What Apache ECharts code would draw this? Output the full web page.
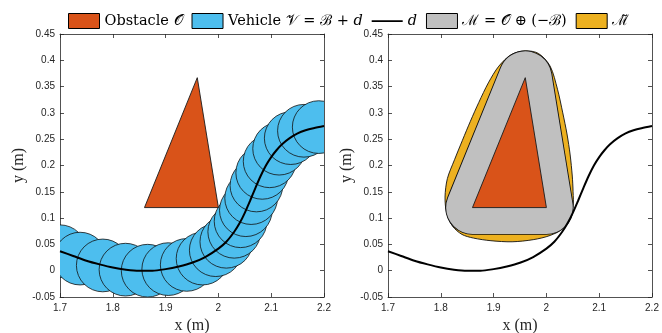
<!DOCTYPE html>
<html><head><meta charset="utf-8">
<script src="https://cdn.jsdelivr.net/npm/echarts@6/dist/echarts.min.js"></script>
<style>html,body{margin:0;padding:0;background:#fff}#c{width:662px;height:333px}</style>
</head><body><div id="c"></div>
<script>
// ---- data ----
const xTicks = [1.7, 1.8, 1.9, 2.0, 2.1, 2.2];
const yTicks = [-0.05, 0, 0.05, 0.1, 0.15, 0.2, 0.25, 0.3, 0.35, 0.4, 0.45];
const obstacleX = [1.86, 2.0, 1.96];
const obstacleY = [0.12, 0.12, 0.367];
const pathX = [1.70,1.725,1.75,1.775,1.80,1.825,1.85,1.875,1.90,1.925,1.95,1.975,2.00,2.015,2.03,2.04,2.05,2.06,2.07,2.08,2.09,2.10,2.11,2.12,2.135,2.15,2.165,2.18,2.20];
const pathY = [0.037,0.028,0.019,0.012,0.006,0.002,0.000,0.000,0.003,0.008,0.015,0.026,0.042,0.055,0.074,0.090,0.110,0.133,0.157,0.180,0.200,0.216,0.229,0.240,0.252,0.261,0.267,0.271,0.275];
const vehicleX = [1.700,1.738,1.781,1.824,1.866,1.905,1.940,1.970,1.995,2.015,2.030,2.042,2.052,2.062,2.072,2.083,2.097,2.115,2.137,2.162,2.190];
const vehicleY = [0.037,0.023,0.010,0.002,0.000,0.003,0.011,0.023,0.039,0.055,0.074,0.094,0.115,0.138,0.162,0.186,0.208,0.232,0.252,0.266,0.273];
const vehicleRadius = 0.05;
const approxX = [1.960,1.985,2.007,2.021,2.031,2.039,2.045,2.049,2.0505,2.050,2.032,2.007,1.975,1.935,1.895,1.862,1.840,1.822,1.811,1.808,1.8124,1.826,1.841,1.856,1.872,1.890,1.910,1.934];
const approxY = [0.418,0.413,0.389,0.345,0.300,0.260,0.220,0.180,0.150,0.120,0.081,0.067,0.059,0.055,0.057,0.062,0.069,0.085,0.110,0.140,0.175,0.211,0.248,0.284,0.320,0.357,0.389,0.411];

const names = ['Obstacle 𝒪', 'Vehicle 𝒱 = ℬ + d', 'd', 'ℳ = 𝒪 ⊕ (−ℬ)', 'ℳ\u0303'];
const C = {obs:'#D95319', veh:'#4DBEEE', gray:'#C0C0C0', yel:'#EDB120'};

const chart = echarts.init(document.getElementById('c'), null, {renderer:'canvas'});

function pts(xs, ys, api){ return xs.map((x,i)=>api.coord([x, ys[i]])); }
function clipRect(params){ const c = params.coordSys; return {type:'rect', shape:{x:c.x, y:c.y, width:c.width, height:c.height}}; }

function triangleSeries(xi, yi){
  return {type:'custom', name:names[0], xAxisIndex:xi, yAxisIndex:yi, z:5,
    itemStyle:{color:C.obs, borderColor:'#000', borderWidth:1},
    data:[[obstacleX[0], obstacleY[0]]],
    renderItem:(params, api)=>({type:'polygon', shape:{points:pts(obstacleX, obstacleY, api)},
      style:{fill:C.obs, stroke:'#1a1a1a', lineWidth:0.9}})
  };
}

const axisCommon = {
  type:'value', axisLine:{show:true, onZero:false, lineStyle:{color:'#262626', width:0.8}},
  axisTick:{show:true, inside:true, length:4, lineStyle:{color:'#262626', width:0.8}},
  splitLine:{show:false}
};
const labelStyle = {color:'#262626', fontSize:10, fontFamily:'Liberation Sans, Arial, sans-serif'};
const nameStyle = {color:'#262626', fontSize:16, fontFamily:'Liberation Serif, DejaVu Serif, serif'};

function xAx(gi, pos){
  return Object.assign({}, axisCommon, {gridIndex:gi, position:pos, min:xTicks[0], max:xTicks[xTicks.length-1], interval:0.1,
    axisLabel:{show:pos==='bottom', margin:6, ...labelStyle, formatter:v=>String(+v.toFixed(2))},
    name: pos==='bottom' ? 'x (m)' : '', nameLocation:'middle', nameGap:21, nameTextStyle:nameStyle});
}
function yAx(gi, pos){
  return Object.assign({}, axisCommon, {gridIndex:gi, position:pos, min:yTicks[0], max:yTicks[yTicks.length-1], interval:0.05,
    axisLabel:{show:pos==='left', margin:5, ...labelStyle, formatter:v=>String(+v.toFixed(2))},
    name: pos==='left' ? 'y (m)' : '', nameLocation:'middle', nameGap:33, nameRotate:90, nameTextStyle:nameStyle});
}

const lineIcon = 'path://M0,0L0.01,0L0,0.01Z M0,6.7L31,6.7L31,8.5L0,8.5Z M31,15L30.99,15L31,14.99Z';
const serif = 'DejaVu Serif, Liberation Serif, serif';

const option = {
  animation:false,
  legend:{
    top:13, left:68, padding:0, itemWidth:31, itemHeight:15, itemGap:9,
    textStyle:{fontSize:14.5, color:'#000', fontFamily:serif,
      rich:{i:{fontStyle:'italic', fontSize:14.5, fontFamily:serif}}},
    formatter: n => n.replace(/\bd\b/g, '{i|d}'),
    data:[
      {name:names[0], icon:'rect', itemStyle:{color:C.obs, borderColor:'#000', borderWidth:1}},
      {name:names[1], icon:'rect', itemStyle:{color:C.veh, borderColor:'#000', borderWidth:1}},
      {name:names[2], icon:lineIcon, itemStyle:{color:'#000', borderWidth:0}},
      {name:names[3], icon:'rect', itemStyle:{color:C.gray, borderColor:'#000', borderWidth:1}},
      {name:names[4], icon:'rect', itemStyle:{color:C.yel, borderColor:'#000', borderWidth:1}}
    ]
  },
  grid:[
    {left:60, top:34, width:264, height:263, outerBoundsMode:'none', containLabel:false},
    {left:388, top:34, width:264, height:263, outerBoundsMode:'none', containLabel:false}
  ],
  xAxis:[xAx(0,'bottom'), xAx(0,'top'), xAx(1,'bottom'), xAx(1,'top')],
  yAxis:[yAx(0,'left'), yAx(0,'right'), yAx(1,'left'), yAx(1,'right')],
  series:[
    triangleSeries(0,0),
    {type:'custom', name:names[1], xAxisIndex:0, yAxisIndex:0, z:3,
      itemStyle:{color:C.veh, borderColor:'#000', borderWidth:1},
      data: vehicleX.map((x,i)=>[x, vehicleY[i]]),
      renderItem:(params, api)=>{
        const c = api.coord([api.value(0), api.value(1)]);
        const s = api.size([vehicleRadius, vehicleRadius]);
        return {type:'circle', shape:{cx:c[0], cy:c[1], r:(s[0]+s[1])/2},
          style:{fill:C.veh, stroke:'#111', lineWidth:0.8}, clipPath:clipRect(params)};
      }
    },
    {type:'line', name:names[2], xAxisIndex:0, yAxisIndex:0, z:6, symbol:'none', smooth:0.3,
      lineStyle:{color:'#000', width:2}, itemStyle:{color:'#000'},
      data: pathX.map((x,i)=>[x, pathY[i]])},
    // right plot
    {type:'custom', name:names[4], xAxisIndex:2, yAxisIndex:2, z:2,
      itemStyle:{color:C.yel, borderColor:'#000', borderWidth:1},
      data:[[approxX[0], approxY[0]]],
      renderItem:(params, api)=>({type:'polygon', shape:{points:pts(approxX, approxY, api), smooth:0.3},
        style:{fill:C.yel, stroke:'#111', lineWidth:0.9}})
    },
    {type:'custom', name:names[3], xAxisIndex:2, yAxisIndex:2, z:3,
      itemStyle:{color:C.gray, borderColor:'#000', borderWidth:1},
      data:[[obstacleX[0], obstacleY[0]]],
      renderItem:(params, api)=>{
        const s = api.size([vehicleRadius, vehicleRadius]);
        const w = s[0] + s[1];
        const p = pts(obstacleX, obstacleY, api);
        return {type:'group', children:[
          {type:'polygon', shape:{points:p}, style:{fill:'#111', stroke:'#111', lineWidth:w+1.8, lineJoin:'round'}},
          {type:'polygon', shape:{points:p}, style:{fill:C.gray, stroke:C.gray, lineWidth:w, lineJoin:'round'}}
        ]};
      }
    },
    triangleSeries(2,2),
    {type:'line', name:names[2], xAxisIndex:2, yAxisIndex:2, z:6, symbol:'none', smooth:0.3,
      lineStyle:{color:'#000', width:2}, itemStyle:{color:'#000'},
      data: pathX.map((x,i)=>[x, pathY[i]])}
  ]
};
chart.setOption(option);
</script>
</body></html>
